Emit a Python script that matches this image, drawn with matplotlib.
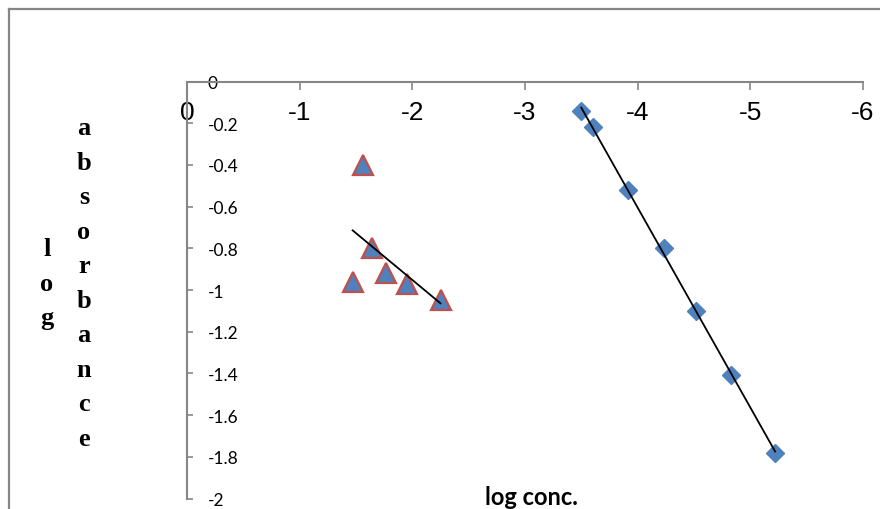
import numpy as np
import matplotlib
matplotlib.use("Agg")
import matplotlib.pyplot as plt
from matplotlib.lines import Line2D

plt.rcParams['axes.unicode_minus'] = False

# === Données ===
# série 1 : losanges bleus
x_diamond = [-3.50, -3.60, -3.91, -4.23, -4.52, -4.83, -5.22]
y_diamond = [-0.14, -0.22, -0.52, -0.80, -1.10, -1.41, -1.78]

# série 2 : triangles
x_tri = [-1.56, -1.64, -1.47, -1.77, -1.95, -2.25]
y_tri = [-0.40, -0.80, -0.96, -0.92, -0.97, -1.05]

x_ticks = [0, -1, -2, -3, -4, -5, -6]
y_ticks = [0, -0.2, -0.4, -0.6, -0.8, -1, -1.2, -1.4, -1.6, -1.8, -2]
y_tick_labels = ["0", "-0.2", "-0.4", "-0.6", "-0.8", "-1", "-1.2", "-1.4",
                 "-1.6", "-1.8", "-2"]

blue = "#4F81BD"
red = "#C0504D"
gray = "#868686"

W, H = 880, 510
fig = plt.figure(figsize=(W / 100, H / 100), dpi=100)

# cadre extérieur (gris, coupé à droite et en bas)
fig.add_artist(Line2D([9 / W, 9 / W], [-0.1, 1 - 9.5 / H], transform=fig.transFigure,
                      color=gray, lw=1.6))
fig.add_artist(Line2D([9 / W, 1.1], [1 - 9.5 / H, 1 - 9.5 / H], transform=fig.transFigure,
                      color=gray, lw=1.6))

ax = fig.add_axes([187 / W, (H - 499.5) / H, (863 - 187) / W, (499.5 - 82.5) / H])
ax.set_xlim(0, -6)
ax.set_ylim(-2, 0)

# === Points ===
ax.plot(x_diamond, y_diamond, linestyle="none", marker="D", ms=9.5,
        color=blue, mec=blue, zorder=3)
ax.plot(x_tri, y_tri, linestyle="none", marker="^", ms=14,
        color=blue, mec=red, mew=1.6, zorder=3)

# === Droites de tendance (régression linéaire) ===
for xs, ys in [(x_diamond, y_diamond), (x_tri, y_tri)]:
    xs = np.array(xs)
    p = np.polyfit(xs, ys, 1)
    xl = np.array([xs.max(), xs.min()])
    ax.plot(xl, np.polyval(p, xl), color="black", lw=1.3, zorder=4)

# === Axes ===
for s in ["top", "right"]:
    ax.spines[s].set_visible(False)
ax.spines["bottom"].set_position(("data", 0))
for s in ["bottom", "left"]:
    ax.spines[s].set_color(gray)
    ax.spines[s].set_linewidth(1.5)

ax.set_xticks(x_ticks)
ax.set_xticklabels([str(v) for v in x_ticks], fontsize=19, family="Liberation Sans")
ax.tick_params(axis="x", direction="out", length=6, width=1.2, color=gray, pad=7)

ax.set_yticks(y_ticks)
ax.set_yticklabels(y_tick_labels, fontsize=12.5, family="Lato")
ax.tick_params(axis="y", direction="in", length=4.5, width=1.2, color=gray, pad=-15)
for lbl in ax.get_yticklabels():
    lbl.set_horizontalalignment("left")

# titre de l'axe x
fig.text(531 / W, (H - 505) / H, "log conc.", ha="center", va="baseline",
         fontsize=17, fontweight="bold", family="Lato")

# titre de l'axe y : lettres empilées
for i, ch in enumerate("log"):
    fig.text(47 / W, 1 - (250 + i * 34.5) / H, ch, ha="center", va="center",
             fontsize=19, fontweight="bold", family="Liberation Serif")
for i, ch in enumerate("absorbance"):
    fig.text(84 / W, 1 - (128.8 + i * 34.5) / H, ch, ha="center", va="center",
             fontsize=19, fontweight="bold", family="Liberation Serif")

fig.savefig("out.png", dpi=100)
